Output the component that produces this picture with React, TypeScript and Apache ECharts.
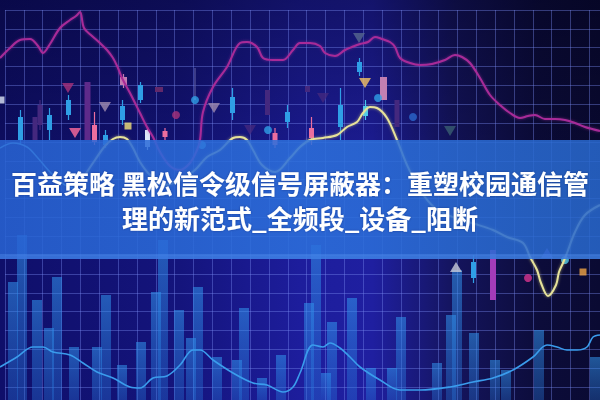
import React, { useEffect, useRef } from "react";
import * as echarts from "echarts";

// ---------- text ----------
const TITLE_LINES = [
  "百益策略 黑松信令级信号屏蔽器：重塑校园通信管",
  "理的新范式_全频段_设备_阻断",
];

// ---------- lines: [x, level] ----------
const magentaLine: [number, number][] = [
  [0, 342], [10, 352], [20, 360], [30, 361], [38, 354], [43, 347], [50, 356], [60, 372],
  [70, 380], [76, 384], [80, 388], [84, 372], [92, 364], [100, 357], [107, 350], [113, 342],
  [118, 332], [122, 322], [130, 307], [140, 287], [147, 273], [153, 263], [160, 248],
  [170, 234], [180, 230], [190, 237], [197, 250], [200, 260], [203, 288], [213, 313],
  [227, 333], [240, 357], [247, 358], [257, 353], [263, 342], [273, 340], [283, 340],
  [293, 350], [300, 357], [310, 357], [320, 354], [325, 347], [335, 344], [345, 350],
  [352, 353], [360, 356], [368, 358], [375, 363], [382, 361], [390, 358], [395, 353],
  [400, 342], [410, 337], [420, 335], [432, 336], [445, 340], [455, 345], [462, 343],
  [470, 337], [480, 322], [490, 305], [500, 295], [510, 287], [520, 282], [528, 284],
  [535, 285], [545, 281], [555, 281], [565, 280], [575, 277], [585, 273], [600, 269],
];

const blueLine: [number, number][] = [
  [0, 33], [17, 43], [33, 53], [43, 53], [53, 48], [70, 45], [83, 37], [97, 28], [113, 22],
  [130, 13], [140, 12], [153, 22], [167, 24], [180, 35], [193, 50], [200, 50], [213, 40],
  [233, 27], [253, 17], [267, 15], [283, 8], [293, 13], [300, 27], [313, 55], [323, 53],
  [330, 57], [340, 52], [350, 43], [360, 33], [380, 20], [400, 10], [420, 10], [450, 13],
  [473, 18], [493, 22], [513, 30], [533, 43], [547, 55], [557, 53], [567, 50], [577, 50],
  [587, 53], [593, 63], [600, 65],
];

const yellowLine: [number, number][] = [
  [85, 225], [95, 240], [105, 254], [113, 261], [120, 263], [127, 261], [133, 252],
  [140, 238], [150, 225], [165, 215], [180, 220], [195, 230], [207, 243], [220, 250],
  [233, 262], [240, 263], [247, 260], [253, 250], [262, 235], [275, 228], [290, 242],
  [300, 253], [310, 260], [323, 262], [337, 265], [347, 273], [357, 278], [363, 287],
  [370, 293], [377, 292], [387, 282], [397, 260], [407, 235], [420, 210], [435, 192],
  [455, 182], [475, 176], [493, 170], [507, 163], [523, 157], [530, 143], [537, 130],
  [541, 117], [548, 104], [556, 115], [559, 128], [563, 137], [567, 147], [575, 168],
  [585, 185], [600, 195],
];

const cyanLine: [number, number][] = [
  [0, 252], [13, 257], [27, 253], [37, 243], [50, 228], [65, 215], [80, 210],
];

// ---------- volume bars ----------
const barX = [13, 22, 37, 49, 57, 74, 97, 106, 122, 141, 156, 163, 179, 191, 198, 217, 237, 244,
  262, 281, 309, 316, 326, 332, 352, 371, 392, 401, 437, 451, 457, 474, 495, 506, 539, 595];
const barLevel = [118, 165, 100, 72, 123, 53, 53, 105, 35, 58, 108, 160, 90, 62, 113, 43, 40, 92,
  22, 45, 97, 155, 27, 78, 102, 32, 32, 83, 37, 85, 130, 67, 40, 30, 70, 43];

// ---------- candles ----------
const candleX = [20.5, 35, 40, 49.5, 68.5, 87.5, 94.5, 105.5, 123.5, 122.5, 140.5, 147.5, 159, 165,
  195, 232.5, 267.5, 287.5, 275, 307.5, 311.5, 340.5, 359.5, 365.5, 383.5, 397, 473.5, 493];
const candleOpen = [283, 283, 295, 285, 300, 318, 275, 265, 323, 294, 315, 270, 313, 269,
  302, 303, 310, 288, 267, 314, 272, 295, 338, 294, 323, 300, 138, 150];
const candleClose = [260, 260, 275, 270, 285, 260, 258, 255, 315, 280, 300, 253, 308, 263,
  300, 287, 285, 278, 255, 308, 262, 273, 328, 284, 300, 273, 122, 100];
const candleHigh = [290, 283, 300, 292, 305, 318, 288, 270, 326, 300, 318, 273, 313, 272,
  332, 312, 310, 295, 272, 314, 283, 312, 342, 300, 323, 300, 145, 150];
const candleLow = [255, 260, 270, 260, 280, 260, 255, 252, 312, 275, 297, 250, 308, 260,
  300, 280, 285, 272, 252, 308, 255, 260, 324, 280, 300, 273, 117, 100];
const candleKind = ["blue", "dim", "dim", "blue", "blue", "purple", "pink", "blue", "mauve", "blue",
  "blue", "white", "dimMagenta", "pink", "faint", "blue", "dim", "blue", "pink", "dim", "pink", "blue",
  "blue", "cyan", "mauve", "dim", "blue", "magenta"];

// ---------- signal markers ----------
const triDownX = [68, 105, 75, 214, 359, 365, 323, 450, 250];
const triDownLevel = [312, 293, 267, 292, 362, 317, 302, 269, 270];
const triDownKind = ["rose", "lilac", "hotpink", "lilac", "slate", "gold", "dim", "teal", "dim"];

const triUpX = [456, 547];
const triUpLevel = [133, 147];
const triUpKind = ["silver", "violet"];

const dotX = [176, 195, 202, 268, 378, 413, 528, 565];
const dotLevel = [285, 300, 255, 270, 302, 283, 122, 140];
const dotKind = ["rose", "blue", "cyan", "blue", "blue", "deepBlue", "hotMagenta", "cyan"];

const squareX = [128, 583, 1];
const squareLevel = [274, 128, 300];
const squareKind = ["lemon", "orange", "white"];

// ---------- styles ----------
const PALETTE: Record<string, string> = {
  blue: "#2f9fe6",
  cyan: "#48c8ee",
  pink: "#ec6e9e",
  mauve: "#c27fb2",
  purple: "#5e2a8a",
  dim: "#44287e",
  dimMagenta: "#62286a",
  white: "#dde6f8",
  faint: "#5a5aa0",
  magenta: "#a43cb8",
  rose: "#a8327a",
  lilac: "#a08cb0",
  hotpink: "#ff6c9c",
  slate: "#56688e",
  gold: "#f6c464",
  teal: "#3a5e72",
  silver: "#c8cad8",
  violet: "#6a54cc",
  deepBlue: "#2a66cc",
  hotMagenta: "#d8348e",
  lemon: "#f2e27a",
  orange: "#f0a444",
};
const CANDLE_WIDTH: Record<string, number> = {
  mauve: 7, dimMagenta: 8, purple: 6, magenta: 6, faint: 2,
};

function markerData(xs: number[], ls: number[], kinds: string[]) {
  return xs.map((x, i) => ({ value: [x, ls[i]], itemStyle: { color: PALETTE[kinds[i]] } }));
}

function buildOption(): echarts.EChartsOption {
  const candleData = candleX.map((x, i) => [x, candleOpen[i], candleClose[i], candleHigh[i], candleLow[i], i]);
  const lineStyleBase = { type: "line" as const, xAxisIndex: 0, yAxisIndex: 0, showSymbol: false, smooth: 0.35 };

  return {
    animation: false,
    backgroundColor: new echarts.graphic.LinearGradient(0, 0, 1, 0, [
      { offset: 0, color: "#0f0f6a" },
      { offset: 0.3, color: "#14147c" },
      { offset: 0.5, color: "#1d1d9c" },
      { offset: 0.62, color: "#1f1fa0" },
      { offset: 0.76, color: "#14145c" },
      { offset: 0.9, color: "#0c0c3a" },
      { offset: 1, color: "#0a0a32" },
    ]),
    title: {
      text: TITLE_LINES.join("\n"),
      left: "center",
      top: 165,
      padding: 0,
      z: 10,
      textStyle: {
        color: "#ffffff",
        fontSize: 26,
        fontWeight: "bold",
        fontFamily: '"Noto Sans CJK SC", sans-serif',
        lineHeight: 35,
        textShadowColor: "rgba(0,0,60,0.35)",
        textShadowBlur: 2,
      },
    },
    graphic: [
      {
        type: "rect",
        silent: true,
        z: -1,
        shape: { x: 0, y: 0, width: 600, height: 400 },
        style: {
          fill: new echarts.graphic.LinearGradient(0, 0, 0, 1, [
            { offset: 0, color: "rgba(0,0,20,0.38)" },
            { offset: 0.55, color: "rgba(0,0,20,0)" },
          ]),
        },
      },
      {
        type: "rect",
        silent: true,
        z: 5,
        shape: { x: 0, y: 140, width: 600, height: 119 },
        style: {
          fill: new echarts.graphic.LinearGradient(0, 0, 1, 0, [
            { offset: 0, color: "rgba(40,100,212,0.86)" },
            { offset: 0.5, color: "rgba(44,112,220,0.86)" },
            { offset: 1, color: "rgba(40,104,206,0.86)" },
          ]),
        },
      },
      {
        type: "rect",
        silent: true,
        z: 5,
        shape: { x: 0, y: 254, width: 600, height: 5 },
        style: { fill: "rgba(90,150,240,0.35)" },
      },
    ],
    grid: [
      { left: 0, right: 0, top: 0, bottom: 0 },
      { left: 5, right: 0, top: 10, bottom: 0 },
    ],
    xAxis: [
      { type: "value", gridIndex: 0, min: 0, max: 600, show: false },
      {
        type: "value", gridIndex: 1, min: 0, max: 595, interval: 18.85,
        axisLine: { show: false }, axisTick: { show: false }, axisLabel: { show: false },
        splitLine: { show: true, lineStyle: { color: "rgba(120,138,240,0.4)", width: 1 } },
      },
    ],
    yAxis: [
      { type: "value", gridIndex: 0, min: 0, max: 400, show: false },
      {
        type: "value", gridIndex: 1, min: 0, max: 390, interval: 18.85, inverse: true,
        axisLine: { show: false }, axisTick: { show: false }, axisLabel: { show: false },
        splitLine: { show: true, lineStyle: { color: "rgba(120,138,240,0.4)", width: 1 } },
      },
    ],
    series: [
      {
        type: "bar",
        xAxisIndex: 0,
        yAxisIndex: 0,
        barWidth: 10,
        data: barX.map((x, i) => [x, barLevel[i]]),
        itemStyle: {
          color: new echarts.graphic.LinearGradient(0, 0, 0, 1, [
            { offset: 0, color: "rgba(50,150,238,0.55)" },
            { offset: 1, color: "rgba(40,120,220,0.35)" },
          ]),
        },
      },
      {
        ...lineStyleBase,
        data: blueLine,
        lineStyle: { color: "#3a9cec", width: 1.6 },
      },
      {
        ...lineStyleBase,
        data: cyanLine,
        lineStyle: { color: "#6cc8e8", width: 1.5 },
      },
      {
        ...lineStyleBase,
        data: magentaLine,
        lineStyle: { color: "#a82c98", width: 2, shadowColor: "rgba(190,50,170,0.5)", shadowBlur: 3 },
      },
      {
        ...lineStyleBase,
        data: yellowLine,
        lineStyle: { color: "#e6e29a", width: 2, shadowColor: "rgba(240,230,120,0.6)", shadowBlur: 3 },
      },
      {
        type: "custom",
        xAxisIndex: 0,
        yAxisIndex: 0,
        data: candleData,
        renderItem: (params: any, api: any) => {
          const x = api.value(0);
          const i = api.value(5);
          const kind = candleKind[i];
          const color = PALETTE[kind];
          const w = CANDLE_WIDTH[kind] ?? 5;
          const top = api.coord([x, api.value(1)]);
          const bot = api.coord([x, api.value(2)]);
          const hi = api.coord([x, api.value(3)]);
          const lo = api.coord([x, api.value(4)]);
          return {
            type: "group",
            children: [
              {
                type: "line",
                shape: { x1: hi[0], y1: hi[1], x2: lo[0], y2: lo[1] },
                style: { stroke: color, lineWidth: 1.2 },
              },
              {
                type: "rect",
                shape: { x: top[0] - w / 2, y: top[1], width: w, height: Math.max(1, bot[1] - top[1]) },
                style: { fill: color },
              },
            ],
          };
        },
      },
      {
        type: "scatter",
        xAxisIndex: 0,
        yAxisIndex: 0,
        symbol: "triangle",
        symbolSize: [12, 10],
        symbolRotate: 180,
        data: markerData(triDownX, triDownLevel, triDownKind),
      },
      {
        type: "scatter",
        xAxisIndex: 0,
        yAxisIndex: 0,
        symbol: "triangle",
        symbolSize: [12, 10],
        data: markerData(triUpX, triUpLevel, triUpKind),
      },
      {
        type: "scatter",
        xAxisIndex: 0,
        yAxisIndex: 0,
        symbol: "circle",
        symbolSize: 8,
        data: markerData(dotX, dotLevel, dotKind),
      },
      {
        type: "scatter",
        xAxisIndex: 0,
        yAxisIndex: 0,
        symbol: "rect",
        symbolSize: 7,
        data: markerData(squareX, squareLevel, squareKind),
      },
    ],
  } as echarts.EChartsOption;
}

export default function App() {
  const ref = useRef<HTMLDivElement>(null);
  useEffect(() => {
    if (!ref.current) return;
    const chart = echarts.init(ref.current, null, { renderer: "svg" });
    chart.setOption(buildOption());
    return () => chart.dispose();
  }, []);
  return (
    <div
      ref={ref}
      style={{ position: "absolute", left: 0, top: 0, width: 600, height: 400 }}
    />
  );
}
